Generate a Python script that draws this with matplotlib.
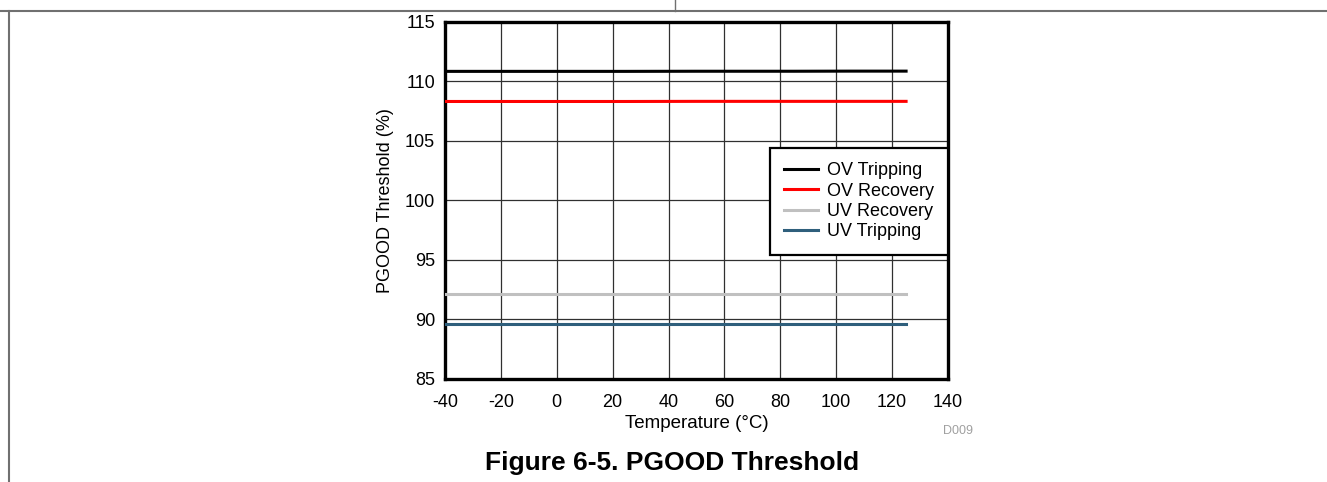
import matplotlib.pyplot as plt
from matplotlib.lines import Line2D

plt.rcParams['font.family'] = ['Liberation Sans', 'DejaVu Sans']
plt.rcParams['axes.unicode_minus'] = False

# данные
temp = [-40, -20, 0, 25, 50, 85, 105, 125]
ov_trip = [110.85, 110.85, 110.85, 110.85, 110.86, 110.86, 110.87, 110.87]
ov_rec = [108.32, 108.32, 108.32, 108.32, 108.33, 108.33, 108.33, 108.33]
uv_rec = [92.15, 92.15, 92.15, 92.15, 92.15, 92.15, 92.15, 92.15]
uv_trip = [89.66, 89.66, 89.66, 89.66, 89.66, 89.66, 89.66, 89.66]

labels = ['OV Tripping', 'OV Recovery', 'UV Recovery', 'UV Tripping']
colors = ['#000000', '#ff0000', '#c0c0c0', '#2f5f7c']
xticks = [-40, -20, 0, 20, 40, 60, 80, 100, 120, 140]
yticks = [85, 90, 95, 100, 105, 110, 115]

fig = plt.figure(figsize=(13.27, 4.82), dpi=100)
ax = fig.add_axes([0.3353, 0.2137, 0.3791, 0.7407])

for ys, c, lb in zip([ov_trip, ov_rec, uv_rec, uv_trip], colors, labels):
    ax.plot(temp, ys, color=c, lw=2.2, label=lb, zorder=3)

ax.set_xlim(-40, 140)
ax.set_ylim(85, 115)
ax.set_xticks(xticks)
ax.set_yticks(yticks)
ax.grid(True, color='#303030', lw=0.9, zorder=1)
ax.tick_params(axis='x', length=0, labelsize=13, pad=10.5)
ax.tick_params(axis='y', length=0, labelsize=13, pad=7)
for s in ax.spines.values():
    s.set_linewidth(2.4)

ax.set_xlabel('Temperature (°C)', fontsize=13.5, labelpad=3)
ax.set_ylabel('PGOOD Threshold (%)', fontsize=13, labelpad=8)

leg = ax.legend(loc='upper right', bbox_to_anchor=(1.0, 0.647), fontsize=13,
                frameon=True, fancybox=False, handlelength=1.85, borderpad=0.8,
                labelspacing=0.18, handletextpad=0.5, borderaxespad=0,
                framealpha=1)
leg.get_frame().set_edgecolor('black')
leg.get_frame().set_linewidth(1.6)

fig.text(943 / 1327, 1 - 431 / 482, 'D009', color='#a0a0a0', fontsize=9,
         ha='left', va='center')
fig.text(672 / 1327, 1 - 463 / 482, 'Figure 6-5. PGOOD Threshold',
         fontsize=19, fontweight='bold', ha='center', va='center')

# рамка страницы
fig.add_artist(Line2D([0, 1], [1 - 11 / 482, 1 - 11 / 482], color='#707070', lw=1.5))
fig.add_artist(Line2D([675 / 1327, 675 / 1327], [1 - 11 / 482, 1], color='#707070', lw=1))
fig.add_artist(Line2D([9 / 1327, 9 / 1327], [0, 1 - 11 / 482], color='#707070', lw=1.5))

fig.savefig('out.png', dpi=100)
